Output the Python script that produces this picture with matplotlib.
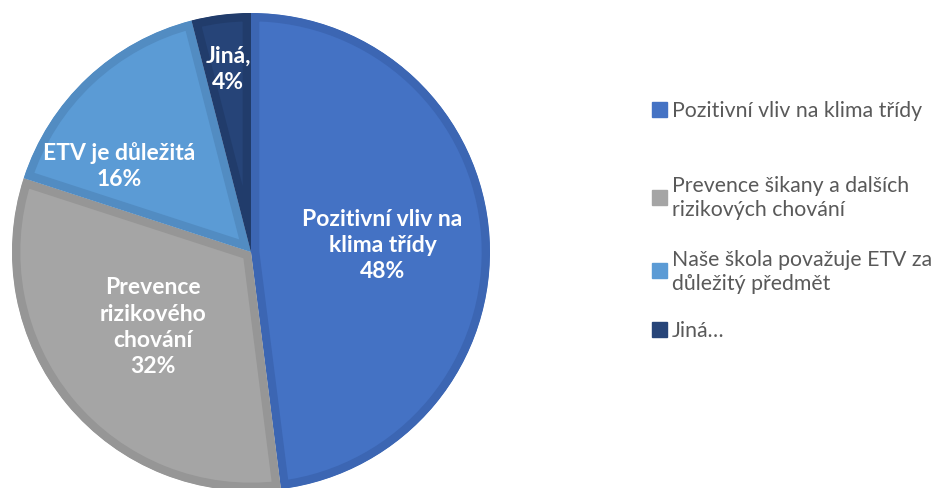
import matplotlib
matplotlib.use('Agg')
import matplotlib.pyplot as plt
from matplotlib.patches import Wedge

# Slice data (clockwise from 12 o'clock)
labels = ['Pozitivní vliv na klima třídy',
          'Prevence šikany a dalších\nrizikových chování',
          'Naše škola považuje ETV za\ndůležitý předmět',
          'Jiná…']
short_labels = ['Pozitivní vliv na\nklima třídy',
                'Prevence\nrizikového\nchování',
                'ETV je důležitá',
                'Jiná,']
values = [48, 32, 16, 4]

face_colors = ['#4472C4', '#A5A5A5', '#5B9BD5', '#264478']
edge_colors = ['#3C66B3', '#969696', '#528CC2', '#213C6B']

# where the inner labels sit (data coords of the unit pie)
label_pos = [(0.55, 0.03), (-0.41, -0.31), (-0.55, 0.365), (-0.095, 0.77)]

plt.rcParams['font.family'] = ['Lato', 'DejaVu Sans']

fig = plt.figure(figsize=(9.38, 4.89), dpi=100)
cx, cy, r = 251, 253, 239
ax = fig.add_axes([(cx - r) / 938, (489 - cy - r) / 489, 2 * r / 938, 2 * r / 489])

wedges, _ = ax.pie(values, colors=face_colors, startangle=90, counterclock=False,
                   radius=1, wedgeprops=dict(linewidth=12))
for w, ec in zip(wedges, edge_colors):
    w.set_edgecolor(ec)
    # clip the stroke to the wedge itself so the border sits inside
    clip = Wedge(w.center, w.r, w.theta1, w.theta2, transform=ax.transData)
    w.set_clip_on(True)
    w.set_clip_box(None)
    w.set_clip_path(clip)

for (x, y), txt, v in zip(label_pos, short_labels, values):
    ax.text(x, y, '{0}\n{1}%'.format(txt, v), ha='center', va='center',
            color='white', fontsize=16.5, fontweight='bold', linespacing=1.3)

ax.set_xlim(-1, 1)
ax.set_ylim(-1, 1)
ax.set_aspect('equal')
ax.axis('off')

# legend drawn by hand to match layout
legend_y = [111, 198.5, 271.5, 331]
for y, lab, c in zip(legend_y, labels, face_colors):
    fig.patches.append(plt.Rectangle((652 / 938, (489 - y - 7) / 489), 15 / 938, 15 / 489,
                                     transform=fig.transFigure, color=c))
    fig.text(672 / 938, (489 - y) / 489, lab, ha='left', va='center',
             fontsize=15.3, color='#595959', linespacing=1.25)

fig.savefig('out.png', dpi=100)
